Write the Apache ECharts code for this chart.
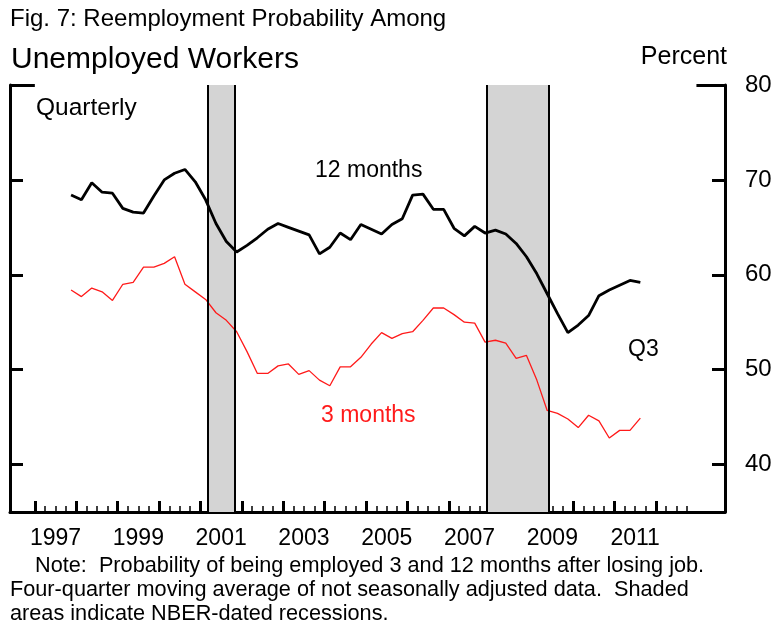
<!DOCTYPE html>
<html>
<head>
<meta charset="utf-8">
<script src="https://cdn.jsdelivr.net/npm/echarts@6/dist/echarts.min.js"></script>
<style>
  html, body { margin: 0; padding: 0; background: #fff; }
  #chart { width: 776px; height: 630px; }
</style>
</head>
<body>
<div id="chart"></div>
<script>
// quarterly observations, 1997Q4 .. 2011Q3
const quarters = [
  '1997Q4',
  '1998Q1','1998Q2','1998Q3','1998Q4',
  '1999Q1','1999Q2','1999Q3','1999Q4',
  '2000Q1','2000Q2','2000Q3','2000Q4',
  '2001Q1','2001Q2','2001Q3','2001Q4',
  '2002Q1','2002Q2','2002Q3','2002Q4',
  '2003Q1','2003Q2','2003Q3','2003Q4',
  '2004Q1','2004Q2','2004Q3','2004Q4',
  '2005Q1','2005Q2','2005Q3','2005Q4',
  '2006Q1','2006Q2','2006Q3','2006Q4',
  '2007Q1','2007Q2','2007Q3','2007Q4',
  '2008Q1','2008Q2','2008Q3','2008Q4',
  '2009Q1','2009Q2','2009Q3','2009Q4',
  '2010Q1','2010Q2','2010Q3','2010Q4',
  '2011Q1','2011Q2','2011Q3'
];

const twelveMonths = [
  68.4,
  67.9, 69.7, 68.7, 68.6,
  67.0, 66.6, 66.5, 68.3,
  70.0, 70.7, 71.1, 69.8,
  67.9, 65.4, 63.5, 62.4,
  63.1, 63.9, 64.8, 65.4,
  65.0, 64.6, 64.2, 62.2,
  62.9, 64.4, 63.7, 65.3,
  64.8, 64.3, 65.3, 65.9,
  68.4, 68.5, 66.9, 66.9,
  64.9, 64.1, 65.1, 64.4,
  64.7, 64.3, 63.3, 61.9,
  60.1, 58.0, 55.9, 53.9,
  54.7, 55.7, 57.8, 58.4,
  58.9, 59.4, 59.2
];

const threeMonths = [
  58.4,
  57.7, 58.6, 58.2, 57.3,
  59.0, 59.2, 60.8, 60.8,
  61.2, 61.9, 59.0, 58.2,
  57.4, 56.0, 55.2, 54.0,
  51.9, 49.6, 49.6, 50.4,
  50.6, 49.5, 49.9, 48.9,
  48.3, 50.3, 50.3, 51.3,
  52.7, 53.9, 53.3, 53.8,
  54.0, 55.2, 56.5, 56.5,
  55.8, 55.0, 54.9, 52.9,
  53.1, 52.8, 51.2, 51.5,
  48.9, 45.7, 45.4, 44.8,
  43.9, 45.2, 44.6, 42.8,
  43.6, 43.6, 44.9
];

// NBER recessions (start, end) in fractional years
const recessions = [[2001.17, 2001.83], [2007.92, 2009.42]];

const yearLabels = [1997, 1999, 2001, 2003, 2005, 2007, 2009, 2011];
const yTicks = [40, 50, 60, 70, 80];

const X_MIN = 1996.4, X_MAX = 2013.67;
const FONT = "'Liberation Sans', Arial, sans-serif";

// quarter midpoints as x positions
const qx = quarters.map(q => +q.slice(0, 4) + (+q.slice(5) - 0.5) / 4);

const yearTicks = [];
const quarterTicks = [];
for (let y = 1997; y <= 2012; y++) {
  yearTicks.push(y);
  quarterTicks.push(y + 0.25, y + 0.5, y + 0.75);
}

const chart = echarts.init(document.getElementById('chart'));

const option = {
  backgroundColor: '#fff',
  animation: false,
  grid: { left: 10, right: 51, top: 85, bottom: 118, outerBoundsMode: 'none' },
  xAxis: [
    {
      type: 'value', min: X_MIN, max: X_MAX, position: 'bottom',
      axisLine: { lineStyle: { color: '#000', width: 3 } },
      axisTick: { inside: true, length: 11, lineStyle: { color: '#000', width: 3 }, customValues: yearTicks },
      axisLabel: {
        customValues: yearLabels.map(y => y + 0.5),
        formatter: v => String(Math.floor(v)),
        color: '#000', fontSize: 23, fontFamily: FONT, margin: 15
      },
      splitLine: { show: false }
    },
    {
      type: 'value', min: X_MIN, max: X_MAX, position: 'bottom',
      axisLine: { show: false },
      axisTick: { inside: true, length: 6, lineStyle: { color: '#000', width: 1.5 }, customValues: quarterTicks },
      axisLabel: { show: false },
      splitLine: { show: false }
    }
  ],
  yAxis: [
    {
      type: 'value', position: 'right', min: 35, max: 80,
      axisLine: { show: true, lineStyle: { color: '#000', width: 3 } },
      axisTick: { show: true, inside: true, length: 13, lineStyle: { color: '#000', width: 3 }, customValues: yTicks },
      axisLabel: { customValues: yTicks, color: '#000', fontSize: 24, fontFamily: FONT, margin: 20, padding: [6, 0, 0, 0] },
      splitLine: { show: false }
    },
    {
      type: 'value', position: 'left', min: 35, max: 80,
      axisLine: { show: true, lineStyle: { color: '#000', width: 3 } },
      axisTick: { show: true, inside: true, length: 13, lineStyle: { color: '#000', width: 3 }, customValues: yTicks },
      axisLabel: { show: false },
      splitLine: { show: false }
    }
  ],
  series: [
    {
      // recession shading and frame decorations
      type: 'line', data: [], z: 1, silent: true,
      markArea: {
        silent: true,
        itemStyle: { color: '#d4d4d4' },
        data: recessions.map(r => [{ xAxis: r[0] }, { xAxis: r[1] }])
      },
      markLine: {
        silent: true, symbol: 'none', animation: false,
        label: { show: false },
        lineStyle: { color: '#000', width: 2, type: 'solid' },
        data: recessions.flat().map(x => ({ xAxis: x })).concat([
          [{ coord: [X_MIN, 80], lineStyle: { width: 3 } }, { coord: [1997, 80] }],
          [{ coord: [2012.98, 80], lineStyle: { width: 3 } }, { coord: [X_MAX, 80] }]
        ])
      }
    },
    {
      name: '12 months', type: 'line', z: 3,
      data: twelveMonths.map((v, i) => [qx[i], v]),
      showSymbol: false, symbol: 'none',
      lineStyle: { color: '#000', width: 2.8 }
    },
    {
      name: '3 months', type: 'line', z: 3,
      data: threeMonths.map((v, i) => [qx[i], v]),
      showSymbol: false, symbol: 'none',
      lineStyle: { color: '#ff1a1a', width: 1.3 }
    }
  ],
  graphic: [
    { type: 'text', x: 10, y: 19, style: { text: 'Fig. 7: Reemployment Probability Among', font: '24px ' + FONT, fill: '#000', textVerticalAlign: 'middle' } },
    { type: 'text', x: 11, y: 60, style: { text: 'Unemployed Workers', font: '30px ' + FONT, fill: '#000', textVerticalAlign: 'middle' } },
    { type: 'text', x: 727, y: 57, style: { text: 'Percent', font: '25px ' + FONT, fill: '#000', textAlign: 'right', textVerticalAlign: 'middle' } },
    { type: 'text', x: 36, y: 108, style: { text: 'Quarterly', font: '24.5px ' + FONT, fill: '#000', textVerticalAlign: 'middle' } },
    { type: 'text', x: 315, y: 171, style: { text: '12 months', font: '23px ' + FONT, fill: '#000', textVerticalAlign: 'middle' } },
    { type: 'text', x: 321, y: 416, style: { text: '3 months', font: '23px ' + FONT, fill: '#ff1a1a', textVerticalAlign: 'middle' } },
    { type: 'text', x: 628, y: 350, style: { text: 'Q3', font: '23px ' + FONT, fill: '#000', textVerticalAlign: 'middle' } },
    { type: 'text', x: 35, y: 566, style: { text: 'Note:  Probability of being employed 3 and 12 months after losing job.', font: '21.7px ' + FONT, fill: '#000', textVerticalAlign: 'middle' } },
    { type: 'text', x: 10, y: 590, style: { text: 'Four-quarter moving average of not seasonally adjusted data.  Shaded', font: '21.7px ' + FONT, fill: '#000', textVerticalAlign: 'middle' } },
    { type: 'text', x: 10, y: 614, style: { text: 'areas indicate NBER-dated recessions.', font: '21.7px ' + FONT, fill: '#000', textVerticalAlign: 'middle' } }
  ]
};

chart.setOption(option);
</script>
</body>
</html>
